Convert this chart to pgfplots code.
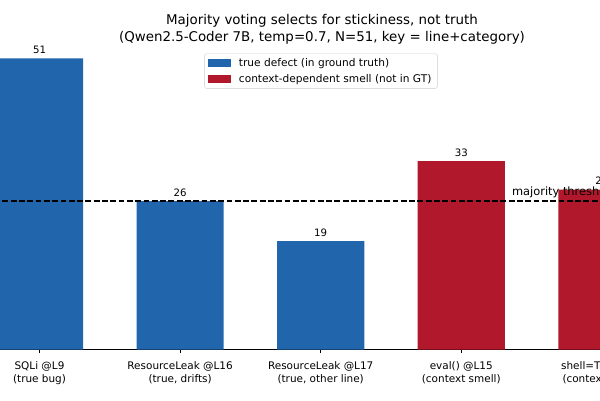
\documentclass[border=0pt]{standalone}
\usepackage{fontspec}
\setmainfont{DejaVu Sans}
\usepackage{pgfplots}
\pgfplotsset{compat=1.18}
\definecolor{truedefect}{HTML}{2166AC}
\definecolor{smell}{HTML}{B2182B}
\newcommand{\twoline}[2]{\begin{tabular}{@{}c@{}}#1\\#2\end{tabular}}
\pgfplotsset{
  patch legend/.style={legend image code/.code={%
    \fill[##1, sharp corners] (0pt,-3.65pt) rectangle (23pt,3.65pt);}},
  count bars/.style={ybar, bar width=0.62, bar shift=0pt, draw=none,
    nodes near coords={\pgfmathprintnumber[assume math mode=true]{\pgfplotspointmeta}},
    nodes near coords style={font=\fontsize{10.2}{12}\selectfont, anchor=south,
                             inner sep=0pt, yshift=4.3pt, text=black},
    patch legend},
}

\begin{document}
\begin{tikzpicture}
\path[use as bounding box, clip] (0pt,0pt) rectangle (600pt,400pt);
% two-line title
\node[anchor=base, inner sep=0pt, font=\fontsize{13.4}{16}\selectfont] at (322pt,375pt)
  {Majority voting selects for stickiness, not truth};
\node[anchor=base, inner sep=0pt, font=\fontsize{13.4}{16}\selectfont] at (322pt,359pt)
  {(Qwen2.5-Coder 7B, temp=0.7, N=51, key = line+category)};
\begin{axis}[
  at={(0pt,50.5pt)}, anchor=south west,
  scale only axis, width=608.9pt, height=302.6pt,
  xmin=-0.281, xmax=4.05, ymin=0, ymax=53,
  clip=false,
  hide y axis,
  axis x line*=bottom,
  axis line style={line width=0.84pt, black, -},
  xtick={0,1,2,3,4},
  xticklabels={{\twoline{SQLi @L9}{(true bug)}},
               {\twoline{ResourceLeak @L16}{(true, drifts)}},
               {\twoline{ResourceLeak @L17}{(true, other line)}},
               {\twoline{eval() @L15}{(context smell)}},
               {\twoline{shell=True @L3}{(context smell)}}},
  xtick style={line width=0.84pt, black},
  tick align=outside,
  major tick length=3.6pt,
  xticklabel style={font=\fontsize{10.45}{13}\selectfont,
                    inner sep=0pt, anchor=north, yshift=-7pt},
  legend style={at={(0.5272,0.978)}, anchor=north, draw=black!20,
                rounded corners=2pt, fill=white,
                font=\fontsize{10.6}{12.5}\selectfont,
                inner xsep=3pt, inner ysep=2pt, row sep=1.5pt,
                nodes={inner xsep=3pt, inner ysep=2.5pt},
                /tikz/every odd column/.append style={column sep=5.3pt}},
  legend cell align=left,
]
\addplot[count bars, fill=truedefect] coordinates {(0,51) (1,26) (2,19)};
\addlegendentry{true defect (in ground truth)}
\addplot[count bars, fill=smell] coordinates {(3,33) (4,28)};
\addlegendentry{context-dependent smell (not in GT)}
% majority threshold (26 of 51 samples)
\addplot[sharp plot, black, line width=1.55pt, dash pattern=on 5.8pt off 2.5pt, forget plot]
  coordinates {(-0.5,26) (4.5,26)};
\node[anchor=base west, inner sep=0pt, font=\fontsize{11.4}{13}\selectfont]
  at (axis cs:3.36,27.06) {majority threshold};
\end{axis}
\end{tikzpicture}
\end{document}
